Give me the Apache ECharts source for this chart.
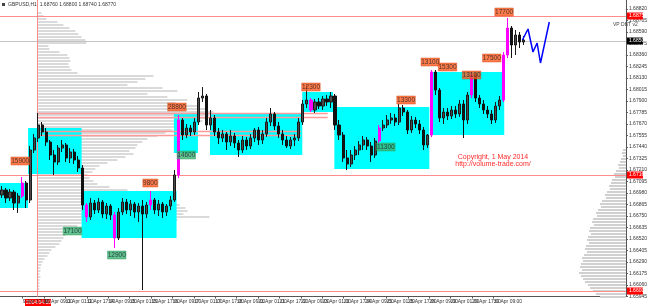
<!DOCTYPE html>
<html><head><meta charset="utf-8">
<script src="https://cdn.jsdelivr.net/npm/echarts@6/dist/echarts.min.js"></script>
<style>html,body{margin:0;padding:0;background:#fff}#c{width:650px;height:306px}</style>
</head><body><div id="c"></div>
<script>
// ---- data (GBPUSD, 3-hour candles) [open, close, low, high]
const candles = [
[1.6696,1.6701,1.6693,1.6705],[1.6701,1.6693,1.6688,1.6703],[1.6693,1.6699,1.6690,1.6702],[1.6699,1.6688,1.6681,1.6701],
[1.6688,1.6695,1.6678,1.6698],[1.6695,1.6708,1.6693,1.6714],[1.6708,1.6691,1.6683,1.6710],[1.6691,1.6741,1.6688,1.6745],
[1.6741,1.6753,1.6738,1.6757],[1.6753,1.6766,1.6749,1.6778],[1.6766,1.6759,1.6755,1.6769],[1.6759,1.6749,1.6745,1.6763],
[1.6749,1.6736,1.6731,1.6751],[1.6736,1.6729,1.6716,1.6741],[1.6729,1.6743,1.6726,1.6746],[1.6743,1.6746,1.6739,1.6751],
[1.6746,1.6733,1.6729,1.6748],[1.6733,1.6739,1.6728,1.6743],[1.6739,1.6731,1.6727,1.6742],[1.6731,1.6723,1.6719,1.6735],
[1.6723,1.6686,1.6681,1.6726],[1.6686,1.6674,1.6669,1.6688],[1.6674,1.6688,1.6671,1.6693],[1.6688,1.6681,1.6677,1.6691],
[1.6681,1.6689,1.6678,1.6693],[1.6689,1.6677,1.6673,1.6691],[1.6677,1.6685,1.6672,1.6688],[1.6685,1.6676,1.6671,1.6687],
[1.6676,1.6653,1.6643,1.6679],[1.6653,1.6679,1.6651,1.6683],[1.6679,1.6689,1.6676,1.6693],[1.6689,1.6681,1.6677,1.6692],
[1.6681,1.6687,1.6675,1.6691],[1.6687,1.6679,1.6673,1.6689],[1.6679,1.6685,1.6669,1.6688],[1.6685,1.6677,1.6601,1.6691],
[1.6677,1.6686,1.6673,1.6689],[1.6686,1.6691,1.6681,1.6700],[1.6691,1.6681,1.6677,1.6693],[1.6681,1.6687,1.6675,1.6691],
[1.6687,1.6679,1.6673,1.6689],[1.6679,1.6685,1.6675,1.6687],[1.6685,1.6691,1.6681,1.6695],[1.6691,1.6716,1.6689,1.6721],
[1.6716,1.6771,1.6713,1.6776],[1.6771,1.6756,1.6751,1.6773],[1.6756,1.6763,1.6753,1.6767],[1.6763,1.6759,1.6755,1.6766],
[1.6759,1.6769,1.6756,1.6773],[1.6769,1.6793,1.6766,1.6799],[1.6793,1.6795,1.6789,1.6804],[1.6795,1.6766,1.6761,1.6797],
[1.6766,1.6773,1.6761,1.6781],[1.6773,1.6759,1.6755,1.6776],[1.6759,1.6753,1.6747,1.6763],[1.6753,1.6757,1.6749,1.6761],
[1.6757,1.6749,1.6741,1.6759],[1.6749,1.6755,1.6745,1.6761],[1.6755,1.6748,1.6743,1.6758],[1.6748,1.6741,1.6734,1.6751],
[1.6741,1.6751,1.6738,1.6755],[1.6751,1.6745,1.6741,1.6754],[1.6745,1.6753,1.6742,1.6757],[1.6753,1.6761,1.6749,1.6763],
[1.6761,1.6751,1.6746,1.6764],[1.6751,1.6757,1.6747,1.6761],[1.6757,1.6769,1.6754,1.6773],[1.6769,1.6777,1.6765,1.6783],
[1.6777,1.6765,1.6761,1.6779],[1.6765,1.6757,1.6753,1.6769],[1.6757,1.6751,1.6746,1.6761],[1.6751,1.6745,1.6743,1.6755],
[1.6745,1.6751,1.6742,1.6754],[1.6751,1.6753,1.6745,1.6757],[1.6753,1.6769,1.6750,1.6773],[1.6769,1.6787,1.6766,1.6791],
[1.6787,1.6791,1.6783,1.6806],[1.6791,1.6781,1.6779,1.6793],[1.6781,1.6789,1.6778,1.6792],[1.6789,1.6785,1.6782,1.6793],
[1.6785,1.6792,1.6781,1.6795],[1.6792,1.6789,1.6785,1.6796],[1.6789,1.6795,1.6783,1.6799],[1.6795,1.6766,1.6761,1.6797],
[1.6766,1.6756,1.6751,1.6771],[1.6756,1.6733,1.6729,1.6759],[1.6733,1.6727,1.6721,1.6741],[1.6727,1.6736,1.6724,1.6741],
[1.6736,1.6741,1.6731,1.6745],[1.6741,1.6746,1.6736,1.6750],[1.6746,1.6751,1.6741,1.6755],[1.6751,1.6745,1.6741,1.6754],
[1.6745,1.6736,1.6729,1.6749],[1.6736,1.6750,1.6733,1.6753],[1.6750,1.6763,1.6748,1.6766],[1.6763,1.6766,1.6760,1.6771],
[1.6766,1.6771,1.6763,1.6776],[1.6771,1.6773,1.6767,1.6778],[1.6773,1.6769,1.6765,1.6777],[1.6769,1.6783,1.6766,1.6787],
[1.6783,1.6779,1.6775,1.6786],[1.6779,1.6761,1.6757,1.6781],[1.6761,1.6771,1.6758,1.6775],[1.6771,1.6767,1.6763,1.6774],
[1.6767,1.6761,1.6757,1.6771],[1.6761,1.6746,1.6741,1.6764],[1.6746,1.6756,1.6743,1.6757],[1.6756,1.6819,1.6754,1.6821],
[1.6819,1.6801,1.6796,1.6821],[1.6801,1.6773,1.6769,1.6803],[1.6773,1.6779,1.6767,1.6783],[1.6779,1.6775,1.6771,1.6783],
[1.6775,1.6781,1.6772,1.6785],[1.6781,1.6777,1.6773,1.6785],[1.6777,1.6787,1.6774,1.6791],[1.6787,1.6771,1.6753,1.6791],
[1.6771,1.6796,1.6767,1.6799],[1.6796,1.6816,1.6793,1.6819],[1.6816,1.6793,1.6789,1.6818],[1.6793,1.6787,1.6783,1.6796],
[1.6787,1.6781,1.6777,1.6791],[1.6781,1.6777,1.6773,1.6785],[1.6777,1.6771,1.6767,1.6781],[1.6771,1.6785,1.6768,1.6789],
[1.6785,1.6791,1.6781,1.6795],[1.6791,1.6836,1.6789,1.6839],[1.6836,1.6863,1.6833,1.6873],[1.6863,1.6846,1.6833,1.6865],
[1.6846,1.6856,1.6836,1.6861],[1.6856,1.6849,1.6843,1.6859],[1.6849,1.6851,1.6846,1.6855]
];
const highVolumeBars = [5, 21, 28, 37, 44, 77, 94, 107, 117, 125, 126];
const slotCount = 156;           // 3-hour slots across the window
const hoursPerSlot = 3;
const windowHours = 468;
const timeLabels = ['9 Apr 2014','9 Apr 17:00','10 Apr 09:00','11 Apr 01:00','11 Apr 17:00','14 Apr 09:00',
  '15 Apr 01:00','15 Apr 17:00','16 Apr 09:00','17 Apr 01:00','17 Apr 17:00','18 Apr 09:00','21 Apr 01:00',
  '21 Apr 17:00','22 Apr 09:00','23 Apr 01:00','23 Apr 17:00','24 Apr 09:00','25 Apr 01:00','25 Apr 17:00',
  '28 Apr 09:00','29 Apr 01:00','29 Apr 17:00','30 Apr 09:00','1 May 01:00'];
const labelStepHours = 16;
const projection = [[390.6,1.6851],[394.8,1.6862],[398.5,1.6839],[401.6,1.6848],[404.1,1.6828],[410.7,1.6869]];
const redVolumeLabels = [['15900',15.1,1.6730],['9800',112.4,1.6708],['28800',132.3,1.6784],['12300',232.5,1.6804],
  ['13300',303.6,1.6791],['13100',321.7,1.6829],['15300',334.6,1.6824],['13100',352.6,1.6816],['17500',367.7,1.6833],['17700',376.9,1.6879]];
const greenVolumeLabels = [['14600',139.3,1.6736],['17100',54.2,1.6660],['12900',87.3,1.6636],['11300',288.5,1.6744]];
// value areas: [startHour, endHour, top, bottom]
const valueAreas = [[0,21,1.6708,1.6683],[21,61,1.6763,1.6717],[61,132,1.6700,1.6653],[130,148,1.6778,1.6738],
  [157,226,1.6778,1.6736],[226,249,1.6799,1.6779],[250,321,1.6784,1.6722],[322,377,1.6819,1.6756]];
const profileStartHour = 28;
const leftProfileTop = 1.6878, profileStep = 0.0003;
const leftProfileVol = [4,6,9,20,26,32,38,41,44,48,49,11,12,22,30,32,33,31,32,34,40,116,108,100,90,125,140,110,130,150,
  138,160,170,176,172,168,165,150,140,135,128,120,110,105,100,98,92,96,88,80,70,62,58,55,50,52,56,60,72,90,100,108,120,
  135,142,148,150,146,172,140,44,40,36,30,28,26,24,22,18,14,12,10,7,5,4,3,3,2,3,2,2,2,2];
const rightProfileTop = 1.6741;
const rightProfileVol = [3,4,3,5,6,8,7,10,12,11,14,15,17,16,19,21,20,24,26,25,28,30,29,33,34,32,36,37,35,38,39,37,40,
  41,39,42,44,43,45,46,44,47,45,43,41,38,36,33,30,26];
const redLevels = [1.6875, 1.6716, 1.6600];
const bidPrice = 1.6850;
// pink levels: [price, startHour, endHour]
const pinkLevels = [[1.6778,28,245],[1.6774,28,245],[1.6760,28,225],[1.6756,28,225]];

// ---- chart
const chart = echarts.init(document.getElementById('c'), null, {renderer:'canvas'});
const FONT = 'Liberation Sans';
const candleData = candles.map((c,i)=> highVolumeBars.includes(i)
  ? {value:c, itemStyle:{color:'#ff00ff',color0:'#ff00ff',borderColor:'#ff00ff',borderColor0:'#ff00ff'}} : c);

function boxLabels(list){
  return list.map(l=>({name:l[0], value:[l[1], l[2]], symbolSize:[l[0].length*3.5+1, 8]}));
}
function hLineSeries(name, rows, color, width, z){
  return {type:'custom', name, xAxisIndex:1, yAxisIndex:0, z, silent:true, data:rows,
    renderItem:(p,api)=>{const a=api.coord([api.value(1),api.value(0)]), b=api.coord([api.value(2),api.value(0)]);
      const y=Math.round(a[1])+0.5;
      return {type:'line', shape:{x1:a[0], y1:y, x2:b[0], y2:y}, style:{stroke:color, lineWidth:width}};}};
}

const option = {
  animation:false,
  backgroundColor:'#ffffff',
  grid:{left:0, right:15, top:0, bottom:9.5},
  xAxis:[
    {type:'category', data:Array.from({length:slotCount},(_,i)=>String(i*hoursPerSlot)), boundaryGap:true,
     show:false},
    {type:'value', min:0, max:windowHours, position:'bottom',
     axisLine:{show:true, onZero:false, lineStyle:{color:'#555', width:1}},
     splitLine:{show:false},
     axisTick:{show:true, length:2, customValues: timeLabels.map((_,k)=>1+labelStepHours*k), lineStyle:{color:'#555'}},
     axisLabel:{customValues: timeLabels.map((_,k)=>1+labelStepHours*k), align:'left', margin:2.5,
       fontSize:5, fontFamily:FONT, color:'#333',
       formatter:v=>timeLabels[Math.round((v-1)/labelStepHours)] || ''}}
  ],
  yAxis:[{type:'value', position:'right', min:1.65945, max:1.6891, interval:0.00115, scale:true,
    axisLine:{show:true, onZero:false, lineStyle:{color:'#555'}},
    axisTick:{show:true, length:2, lineStyle:{color:'#555'}},
    splitLine:{show:false},
    axisLabel:{fontSize:5, fontFamily:FONT, color:'#333', margin:3, showMaxLabel:false,
      formatter:v=>v.toFixed(5)}}],
  series:[
    {type:'custom', name:'leftProfile', xAxisIndex:1, yAxisIndex:0, z:1, silent:true,
     data:leftProfileVol.map((v,i)=>[profileStartHour, leftProfileTop - i*profileStep, v]),
     renderItem:(p,api)=>{const pt=api.coord([api.value(0),api.value(1)]);
       return {type:'rect', shape:{x:pt[0], y:pt[1]-1, width:api.value(2), height:2}, style:{fill:'#dadada'}};}},
    {type:'custom', name:'rightProfile', xAxisIndex:1, yAxisIndex:0, z:1, silent:true,
     data:rightProfileVol.map((v,i)=>[windowHours, rightProfileTop - i*profileStep, v]),
     renderItem:(p,api)=>{const pt=api.coord([api.value(0),api.value(1)]);
       return {type:'rect', shape:{x:pt[0]-api.value(2), y:pt[1]-1, width:api.value(2), height:2}, style:{fill:'#d0d0d0'}};}},
    {type:'custom', name:'valueAreas', xAxisIndex:1, yAxisIndex:0, z:2, silent:true,
     data:valueAreas,
     renderItem:(p,api)=>{const a=api.coord([api.value(0),api.value(2)]), b=api.coord([api.value(1),api.value(3)]);
       return {type:'rect', shape:{x:a[0], y:a[1], width:b[0]-a[0], height:b[1]-a[1]}, style:{fill:'#00ffff'}};}},
    hLineSeries('redLevels', redLevels.map(p=>[p,0,windowHours]), '#ff8c8c', 1, 3),
    hLineSeries('bid', [[bidPrice,0,windowHours]], '#c4c4c4', 1, 3),
    hLineSeries('pinkLevels', pinkLevels, '#ff9a9a', 1.5, 3),
    {type:'custom', name:'profileStart', xAxisIndex:1, yAxisIndex:0, z:3, silent:true, data:[[profileStartHour]],
     renderItem:(p,api)=>{const x=Math.round(api.coord([api.value(0),1.6891])[0])+0.5; const cs=p.coordSys;
       return {type:'line', shape:{x1:x, y1:cs.y, x2:x, y2:cs.y+cs.height}, style:{stroke:'#ff8c8c', lineWidth:1}};}},
    {type:'candlestick', name:'GBPUSD', xAxisIndex:0, yAxisIndex:0, z:4, barWidth:2.6,
     itemStyle:{color:'#4a4a4a', color0:'#111111', borderColor:'#1a1a1a', borderColor0:'#111111', borderWidth:1},
     data:candleData},
    {type:'line', name:'projection', xAxisIndex:1, yAxisIndex:0, z:5, data:projection, symbol:'none',
     lineStyle:{color:'#0000ff', width:1.5}},
    {type:'scatter', name:'highVol', xAxisIndex:1, yAxisIndex:0, z:6, symbol:'rect',
     data:boxLabels(redVolumeLabels),
     itemStyle:{color:'#ff5a1e', borderColor:'#d04010', borderWidth:0.5},
     label:{show:true, position:'inside', formatter:'{b}', fontSize:6.5, fontFamily:FONT, color:'#222'}},
    {type:'scatter', name:'lowVol', xAxisIndex:1, yAxisIndex:0, z:6, symbol:'rect',
     data:boxLabels(greenVolumeLabels),
     itemStyle:{color:'#3cb371', borderColor:'#2a9a5a', borderWidth:0.5},
     label:{show:true, position:'inside', formatter:'{b}', fontSize:6.5, fontFamily:FONT, color:'#123'}},
    {type:'custom', name:'axisMarks', xAxisIndex:1, yAxisIndex:0, z:7, clip:false, silent:true,
     data:[...redLevels.map(p=>[windowHours,p,0]), [windowHours,bidPrice,1]],
     renderItem:(p,api)=>{const pt=api.coord([api.value(0),api.value(1)]); const dark=api.value(2)===1;
       return {type:'group', children:[
         {type:'rect', shape:{x:pt[0]+1, y:pt[1]-3.5, width:16, height:7}, style:{fill: dark?'#000':'#ff0000'}},
         {type:'text', x:pt[0]+3, y:pt[1], style:{text:api.value(1).toFixed(5), fontSize:5, fontFamily:FONT,
           fill:'#fff', verticalAlign:'middle'}}]};}}
  ],
  graphic:[
    {type:'rect', left:2, top:3, shape:{width:3, height:3}, style:{fill:'#444'}},
    {type:'text', left:8, top:2, style:{text:'GBPUSD,H1  1.68760 1.68800 1.68740 1.68770', fontSize:5, fontFamily:FONT, fill:'#333'}},
    {type:'text', left:613, top:22, style:{text:'VP DBT v2', fontSize:5, fontFamily:FONT, fill:'#444'}},
    {type:'text', x:493, y:157, style:{text:'Copyright, 1 May 2014', fontSize:7, fontFamily:FONT, fill:'#ff2a2a', align:'center', verticalAlign:'middle'}},
    {type:'text', x:493, y:164.5, style:{text:'http://volume-trade.com/', fontSize:7, fontFamily:FONT, fill:'#ff2a2a', align:'center', verticalAlign:'middle'}},
    {type:'rect', left:25, top:299, shape:{width:26, height:7}, style:{fill:'#ff0000'}},
    {type:'text', left:26, top:300.5, style:{text:'2014.04.10 04:00', fontSize:5, fontFamily:FONT, fill:'#fff'}}
  ]
};
chart.setOption(option);
</script></body></html>
